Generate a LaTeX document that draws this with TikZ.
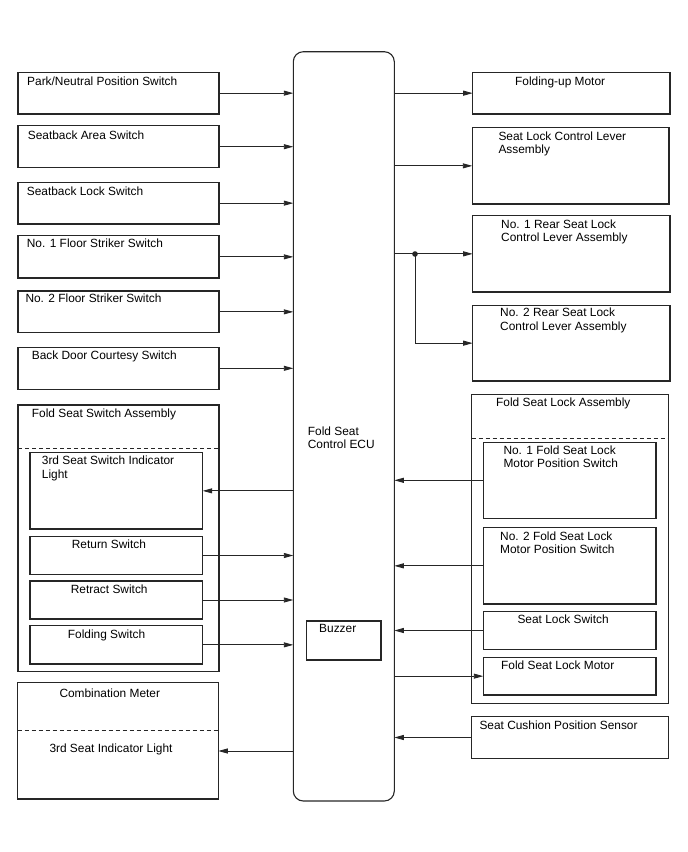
\documentclass[tikz,border=0pt]{standalone}
\usepackage{fontspec}
\setmainfont{Liberation Sans}
\usetikzlibrary{arrows.meta,fit}
\begin{document}
\begin{tikzpicture}[x=1pt,y=-1pt,
 box/.style={draw=black!85,line width=1.1pt,inner sep=0pt,outer sep=0pt},
 lbl/.style={anchor=base west,inner sep=0pt,font=\fontsize{11.9}{13.4}\selectfont},
 arr/.style={draw=black!85,line width=0.9pt,-{Triangle[length=9.5pt,width=5pt]}},
 dsh/.style={draw=black!85,line width=0.9pt,dash pattern=on 4pt off 3pt}]
\useasboundingbox (0,0) rectangle (688,852);
% central ECU
\node[box,rounded corners=10pt,fit={(293.3,51.7) (394.3,801)}] (ecu) {};
\node[box,fit={(306.7,621) (381,660)}] (buz) {};
% left boxes
\node[box,fit={(18,72.3) (219,114)}] (park) {};
\node[box,fit={(18,125.7) (219,167.7)}] (sarea) {};
\node[box,fit={(18,182.3) (219,224)}] (slock) {};
\node[box,fit={(18,235.7) (219,278)}] (fs1) {};
\node[box,fit={(18,291) (219,332.7)}] (fs2) {};
\node[box,fit={(18,347.3) (219,389.3)}] (bdc) {};
\node[box,fit={(18,405) (219,671.7)}] (fssa) {};
\node[box,fit={(30,452.7) (202.7,529)}] (ind) {};
\node[box,fit={(30,536.7) (202.7,574.3)}] (ret) {};
\node[box,fit={(30,581) (202.7,619)}] (rtr) {};
\node[box,fit={(30,625.7) (202.7,664)}] (fld) {};
\node[box,fit={(17.5,682.7) (218.3,799)}] (cmb) {};
% right boxes
\node[box,fit={(472.7,72.3) (670,114)}] (fum) {};
\node[box,fit={(472.3,127.7) (669,204)}] (slcl) {};
\node[box,fit={(472.7,215.7) (670,292)}] (r1) {};
\node[box,fit={(472.7,305.3) (670,381)}] (r2) {};
\node[box,fit={(471.7,394.7) (668.7,703.3)}] (fsla) {};
\node[box,fit={(483.3,442.3) (656,518.3)}] (fp1) {};
\node[box,fit={(483.3,527.7) (656,604)}] (fp2) {};
\node[box,fit={(483.3,611.7) (656,649.3)}] (sls) {};
\node[box,fit={(483.3,657.3) (656,695)}] (fslm) {};
\node[box,fit={(471.7,716.7) (668.3,758.3)}] (scps) {};
% dashed separators
\coordinate (d1) at (0,448.3);
\coordinate (d2) at (0,438.3);
\coordinate (d3) at (0,730.7);
\draw[dsh] (fssa.west |- d1) -- (fssa.east |- d1);
\draw[dsh] (fsla.west |- d2) -- (fsla.east |- d2);
\draw[dsh] (cmb.west |- d3) -- (cmb.east |- d3);
% arrows left inputs
\foreach \n in {park,sarea,slock,fs1,fs2,bdc,ret,rtr,fld}
  \draw[arr] (\n.east) -- (\n.east -| ecu.west);
\draw[arr] (ind.east -| ecu.west) -- (ind.east);
\coordinate (cmbin) at (218.3,751);
\draw[arr] (cmbin -| ecu.west) -- (cmbin);
% arrows right
\foreach \n in {fum,slcl,r1,fslm}
  \draw[arr] (\n.west -| ecu.east) -- (\n.west);
\coordinate (jn) at (415,254);
\fill[black!85] (jn) circle (2.8pt);
\draw[arr] (jn) |- (r2.west);
\foreach \n in {fp1,fp2,sls,scps}
  \draw[arr] (\n.west) -- (\n.west -| ecu.east);
% labels
\node[lbl] (t1) at (27,85) {Park/Neutral Position Switch};
\node[lbl] (t2) at (27.7,139.3) {Seatback Area Switch};
\node[lbl] (t3) at (26.7,195) {Seatback Lock Switch};
\node[lbl] (t4) at (26.7,247.3) {No. 1 Floor Striker Switch};
\node[lbl] (t5) at (25.3,302.7) {No. 2 Floor Striker Switch};
\node[lbl] (t6) at (31.7,359.3) {Back Door Courtesy Switch};
\node[lbl] (t7) at (31.7,417) {Fold Seat Switch Assembly};
\node[lbl] (t8a) at (41.7,464) {3rd Seat Switch Indicator};
\node[lbl] (t8b) at (41.7,478) {Light};
\node[lbl] (t9) at (71.7,548) {Return Switch};
\node[lbl] (t10) at (70.7,593) {Retract Switch};
\node[lbl] (t11) at (67.7,638) {Folding Switch};
\node[lbl] (t12) at (59.3,697) {Combination Meter};
\node[lbl] (t13) at (49.3,752) {3rd Seat Indicator Light};
\node[lbl] (t14a) at (307.7,435) {Fold Seat};
\node[lbl] (t14b) at (307.7,448.3) {Control ECU};
\node[lbl] (t15) at (319,632.7) {Buzzer};
\node[lbl] (t16) at (515,85) {Folding-up Motor};
\node[lbl] (t17a) at (498.3,140) {Seat Lock Control Lever};
\node[lbl] (t17b) at (498.3,153.3) {Assembly};
\node[lbl] (t18a) at (501,228.3) {No. 1 Rear Seat Lock};
\node[lbl] (t18b) at (501,241.7) {Control Lever Assembly};
\node[lbl] (t19a) at (500,316.7) {No. 2 Rear Seat Lock};
\node[lbl] (t19b) at (500,330) {Control Lever Assembly};
\node[lbl] (t20) at (496,406.7) {Fold Seat Lock Assembly};
\node[lbl] (t21a) at (503.3,454) {No. 1 Fold Seat Lock};
\node[lbl] (t21b) at (503.3,467.3) {Motor Position Switch};
\node[lbl] (t22a) at (500,540) {No. 2 Fold Seat Lock};
\node[lbl] (t22b) at (500,553.3) {Motor Position Switch};
\node[lbl] (t23) at (517.3,623.3) {Seat Lock Switch};
\node[lbl] (t24) at (501,669.3) {Fold Seat Lock Motor};
\node[lbl] (t25) at (479.3,729.3) {Seat Cushion Position Sensor};
\end{tikzpicture}
\end{document}
